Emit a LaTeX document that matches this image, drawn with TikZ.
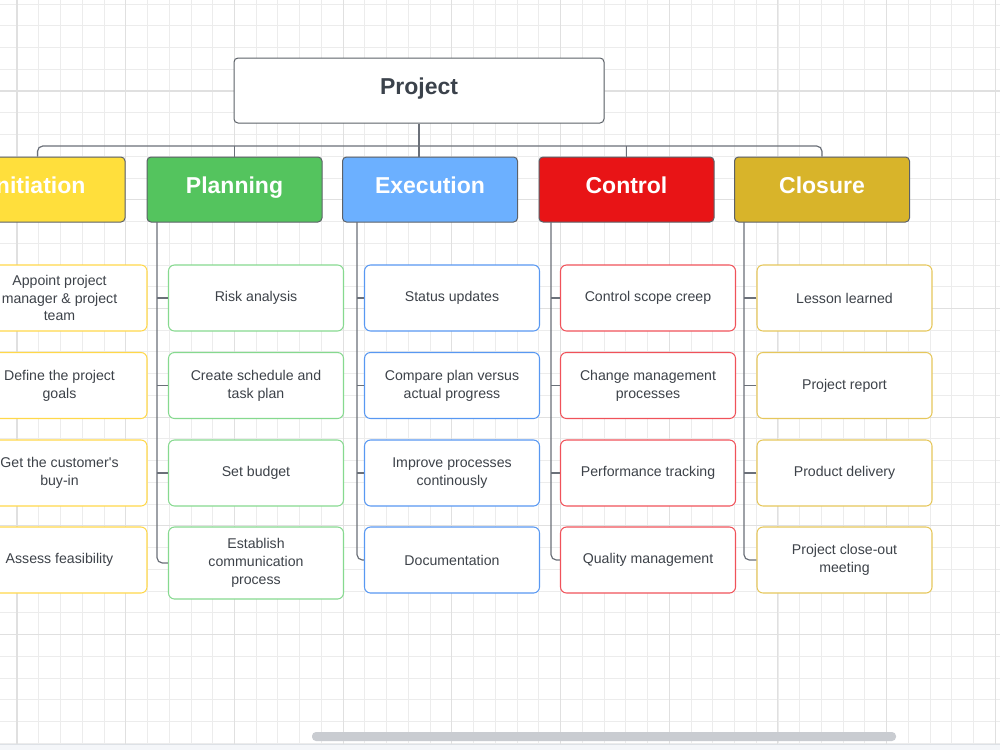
\documentclass[tikz,border=0pt]{standalone}
\usepackage{fontspec}
\setmainfont{Liberation Sans}
\definecolor{gridminor}{HTML}{ECECEC}
\definecolor{gridmajor}{HTML}{E0E0E0}
\definecolor{connc}{HTML}{6B7079}
\definecolor{catborder}{HTML}{5C6168}
\definecolor{projtext}{HTML}{3B424B}
\definecolor{childtext}{HTML}{3D4249}
\definecolor{iniF}{HTML}{FFDF3C}
\definecolor{plaF}{HTML}{54C45E}
\definecolor{exeF}{HTML}{6CB0FF}
\definecolor{conF}{HTML}{E81416}
\definecolor{cloF}{HTML}{D8B42A}
\definecolor{iniB}{HTML}{FFD84A}
\definecolor{plaB}{HTML}{86D98F}
\definecolor{exeB}{HTML}{5898F2}
\definecolor{conB}{HTML}{F0525A}
\definecolor{cloB}{HTML}{E6C75C}
\definecolor{scrollc}{HTML}{C9CCD1}
\definecolor{stripc}{HTML}{F4F6F9}
\definecolor{stripl}{HTML}{DDE1E6}
\begin{document}
\begin{tikzpicture}[x=0.75pt,y=-0.75pt,
  minorgrid/.style={draw=gridminor, line width=0.6pt},
  majorgrid/.style={draw=gridmajor, line width=0.8pt},
  conn/.style={draw=connc, line width=0.9pt},
  projbox/.style={draw=catborder, fill=white, line width=0.75pt, rounded corners=3pt,
    minimum width=277.5pt, minimum height=48.75pt, inner sep=0pt,
    text height=12.5pt, text depth=6pt,
    font=\fontsize{17.25}{20}\selectfont\bfseries, text=projtext},
  catbox/.style={draw=catborder, line width=0.75pt, rounded corners=3pt,
    minimum width=131.25pt, minimum height=48.75pt, inner sep=0pt,
    text height=12.5pt, text depth=6.3pt,
    font=\fontsize{17.25}{20}\selectfont\bfseries, text=white},
  childbox/.style={fill=white, line width=0.8pt, rounded corners=4.5pt,
    minimum width=131.25pt, minimum height=49.5pt, inner sep=0pt, align=center,
    font=\fontsize{10.6}{13.3}\selectfont, text=childtext}]
\useasboundingbox (0,0) rectangle (1000,750);
\clip (0,0) rectangle (1000,750);
\fill[white] (0,0) rectangle (1000,750);
% grid
\foreach \i in {-1,...,46} \draw[minorgrid] ({17+21.74*\i},0) -- ({17+21.74*\i},744);
\foreach \j in {0,...,34} \draw[minorgrid] (0,{4.04+21.74*\j}) -- (1000,{4.04+21.74*\j});
\foreach \i in {0,...,9} \draw[majorgrid] ({17+108.7*\i},0) -- ({17+108.7*\i},744);
\foreach \j in {1,...,6} \draw[majorgrid] (0,{-17.7+108.7*\j}) -- (1000,{-17.7+108.7*\j});
% bottom strip and scrollbar
\fill[stripc] (0,744) rectangle (1000,750);
\draw[stripl, line width=0.75pt] (0,744) -- (1000,744);
\fill[scrollc, rounded corners=3pt] (312,732) rectangle (896,741);

% root
\node[projbox] (proj) at (419,90.5) {Project};
% categories
\node[catbox, fill=iniF] (ini) at (37.5,189.5) {Initiation};
\node[catbox, fill=plaF] (pla) at (234.5,189.5) {Planning};
\node[catbox, fill=exeF] (exe) at (430,189.5) {Execution};
\node[catbox, fill=conF] (con) at (626.5,189.5) {Control};
\node[catbox, fill=cloF] (clo) at (822,189.5) {Closure};

% Initiation children
\node[childbox, draw=iniB] (ini1) at (59.5,298) {Appoint project\\manager \& project\\team};
\node[childbox, draw=iniB] (ini2) at (59.5,385.5) {Define the project\\goals};
\node[childbox, draw=iniB] (ini3) at (59.5,473) {Get the customer\textquotesingle s\\buy-in};
\node[childbox, draw=iniB] (ini4) at (59.5,560) {Assess feasibility};
% Planning children
\node[childbox, draw=plaB] (pla1) at (256,298) {Risk analysis};
\node[childbox, draw=plaB] (pla2) at (256,385.5) {Create schedule and\\task plan};
\node[childbox, draw=plaB] (pla3) at (256,473) {Set budget};
\node[childbox, draw=plaB, minimum height=54pt] (pla4) at (256,563) {Establish\\communication\\process};
% Execution children
\node[childbox, draw=exeB] (exe1) at (452,298) {Status updates};
\node[childbox, draw=exeB] (exe2) at (452,385.5) {Compare plan versus\\actual progress};
\node[childbox, draw=exeB] (exe3) at (452,473) {Improve processes\\continously};
\node[childbox, draw=exeB] (exe4) at (452,560) {Documentation};
% Control children
\node[childbox, draw=conB] (con1) at (648,298) {Control scope creep};
\node[childbox, draw=conB] (con2) at (648,385.5) {Change management\\processes};
\node[childbox, draw=conB] (con3) at (648,473) {Performance tracking};
\node[childbox, draw=conB] (con4) at (648,560) {Quality management};
% Closure children
\node[childbox, draw=cloB] (clo1) at (844.5,298) {Lesson learned};
\node[childbox, draw=cloB] (clo2) at (844.5,385.5) {Project report};
\node[childbox, draw=cloB] (clo3) at (844.5,473) {Product delivery};
\node[childbox, draw=cloB] (clo4) at (844.5,560) {Project close-out\\meeting};

% top connectors
\coordinate (bus) at (419,146);
\draw[conn] (proj.south) -- (proj.south |- exe.north);
\draw[conn, rounded corners=4pt] (ini.north) |- (bus) -| (clo.north);
\draw[conn] (pla.north) -- (pla.north |- bus);
\draw[conn] (con.north) -- (con.north |- bus);

% spines
\coordinate (iniT) at (-40,222);
\coordinate (plaT) at (157,222);
\coordinate (exeT) at (357,222);
\coordinate (conT) at (551,222);
\coordinate (cloT) at (744,222);
\foreach \c in {ini,pla,exe,con,clo}{
  \draw[conn, rounded corners=4pt] (\c T) |- (\c4.west);
  \foreach \k in {1,2,3}
    \draw[conn] (\c\k.west) -- (\c\k.west -| \c T);
}
\end{tikzpicture}
\end{document}
